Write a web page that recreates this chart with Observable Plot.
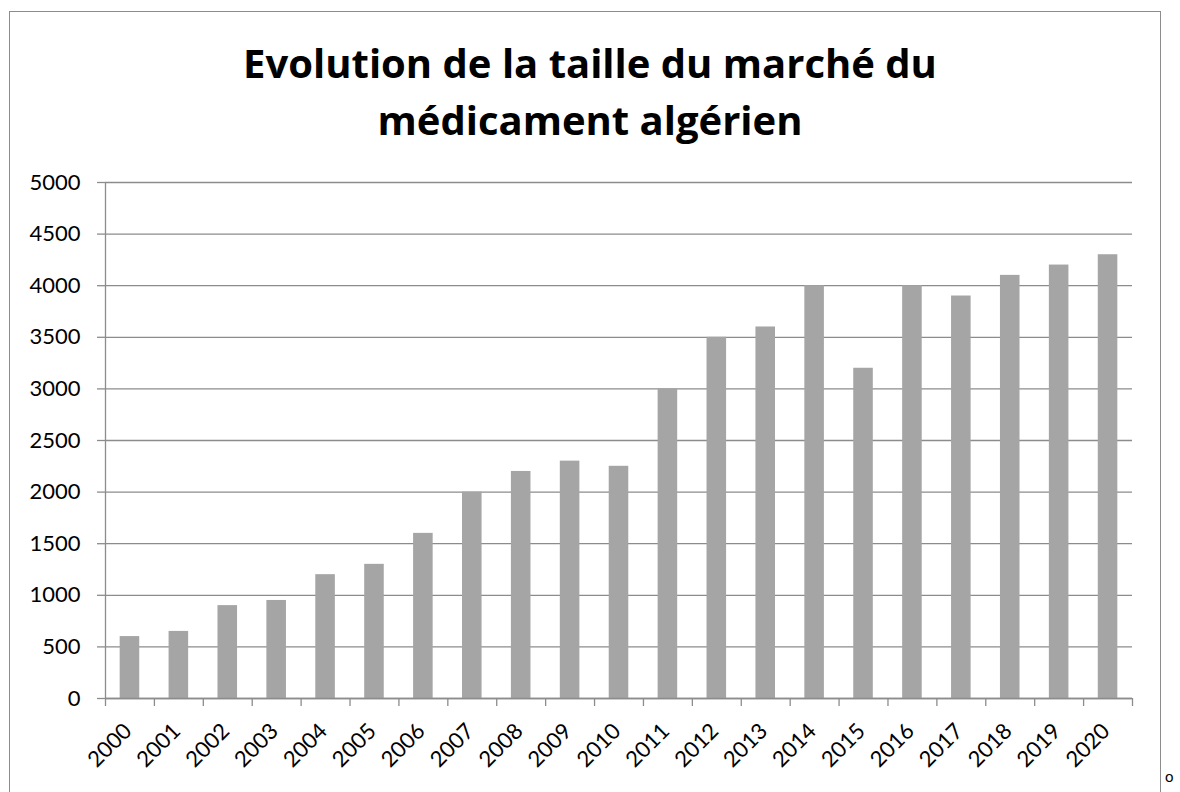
<!DOCTYPE html>
<html>
<head>
<meta charset="utf-8">
<script src="https://cdn.jsdelivr.net/npm/d3@7"></script>
<script src="https://cdn.jsdelivr.net/npm/@observablehq/plot@0.6"></script>
<style>
  html, body { margin: 0; padding: 0; background: #fff; }
  #wrap { position: relative; width: 1180px; height: 792px; overflow: hidden; font-family: Lato, "Open Sans", sans-serif; }
  #frame { position: absolute; left: 9px; top: 11px; width: 1152px; height: 820px; border: 1px solid #8c8c8c; box-sizing: border-box; }
  #title { position: absolute; left: 0; top: 34px; width: 1180px; text-align: center; font-family: "Open Sans", sans-serif; font-weight: bold; font-size: 40px; line-height: 57px; color: #000; font-variant-ligatures: none; }
  #chart { position: absolute; left: 0; top: 0; }
  #mark { position: absolute; left: 1165px; top: 767px; font-size: 15px; color: #000; }
</style>
</head>
<body>
<div id="wrap">
  <div id="frame"></div>
  <div id="title">Evolution de la taille du marché du<br>médicament algérien</div>
  <div id="chart"></div>
  <div id="mark">o</div>
</div>
<script>
const years = ["2000","2001","2002","2003","2004","2005","2006","2007","2008","2009","2010","2011","2012","2013","2014","2015","2016","2017","2018","2019","2020"];
const values = [600,650,900,950,1200,1300,1600,2000,2200,2300,2250,3000,3500,3600,4000,3200,4000,3900,4100,4200,4300];
const yTicks = [0,500,1000,1500,2000,2500,3000,3500,4000,4500,5000];

const data = years.map((y, i) => ({year: y, value: values[i]}));

const W = 1180, H = 792, mL = 105, mR = 48, mT = 182, mB = 94;
const step = (W - mL - mR) / years.length;
const gridColor = "#8c8c8c";

const chart = Plot.plot({
  width: W,
  height: H,
  marginLeft: mL,
  marginRight: mR,
  marginTop: mT,
  marginBottom: mB,
  style: {fontFamily: "Lato, 'Open Sans', sans-serif", fontSize: "22px", color: "#000", background: "transparent"},
  x: {domain: years, paddingInner: 0.6, paddingOuter: 0.3, align: 0.5, round: false},
  y: {domain: [0, 5000]},
  marks: [
    Plot.gridY(yTicks, {stroke: gridColor, strokeOpacity: 1, strokeWidth: 1.3}),
    Plot.barY(data, {x: "year", y: "value", fill: "#a5a5a5"}),
    Plot.ruleY([0], {stroke: gridColor, strokeWidth: 1.3}),
    Plot.ruleX([years[0]], {stroke: gridColor, strokeWidth: 1.3, dx: -step / 2, y1: 0, y2: 5000}),
    Plot.axisY(yTicks, {tickSize: 8, tickPadding: 17, stroke: gridColor, strokeWidth: 1.3, fill: "#000", fontSize: 22, label: null, tickFormat: "d"}),
    Plot.axisX(years, {tickSize: 8, dx: -step / 2, tickFormat: () => "", stroke: gridColor, strokeWidth: 1.3, label: null}),
    Plot.axisX([years[years.length - 1]], {tickSize: 8, dx: step / 2, tickFormat: () => "", stroke: gridColor, strokeWidth: 1.3, label: null}),
    Plot.axisX(years, {tickSize: 0, tickPadding: 29, tickRotate: -45, fill: "#000", fontSize: 22, label: null, dx: -2})
  ]
});
document.getElementById("chart").appendChild(chart);
</script>
</body>
</html>
